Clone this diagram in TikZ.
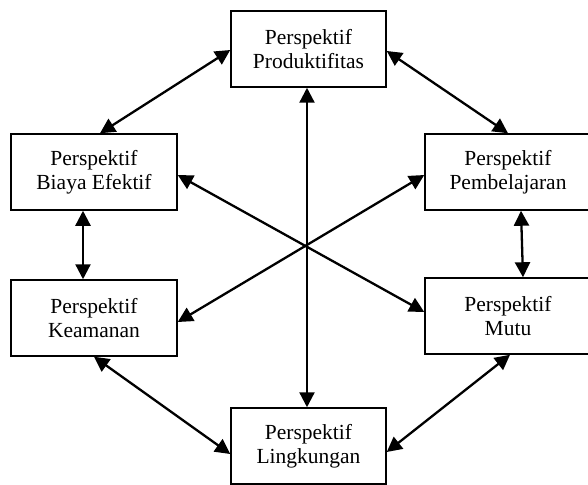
\documentclass[tikz,border=0pt]{standalone}
\usepackage{fontspec}
\setmainfont{Liberation Serif}
\usepackage{tikz}
\usetikzlibrary{arrows.meta,positioning}

\begin{document}
\begin{tikzpicture}[x=1pt, y=-1pt, >={Triangle[length=15pt, width=15pt]},
  font=\fontsize{21.5}{24.5}\selectfont,
  persp/.style={draw=black, line width=1.5pt, rectangle, align=center, inner sep=0pt,
                minimum height=76pt, minimum width=166pt},
  link/.style={<->, line width=2.3pt}]
  \useasboundingbox (0,0) rectangle (588,484);
  \node[persp, minimum width=155pt] (prod) at (308.5,49)  {Perspektif\\Produktifitas};
  \node[persp] (biaya) at (94,172)  {Perspektif\\Biaya Efektif};
  \node[persp] (pemb)  at (508,172) {Perspektif\\Pembelajaran};
  \node[persp] (keam)  at (94,318)  {Perspektif\\Keamanan};
  \node[persp] (mutu)  at (508,316) {Perspektif\\Mutu};
  \node[persp, minimum width=155pt] (ling) at (308.5,446) {Perspektif\\Lingkungan};
  % outer ring
  \draw[link] ([xshift=6pt]biaya.north) -- ([yshift=-1pt]prod.west);
  \draw[link] ([yshift=-2pt]prod.east) -- (pemb.north);
  \draw[link] ([xshift=-11pt]biaya.south) -- ([xshift=-11pt]keam.north);
  \draw[link] ([xshift=13pt]pemb.south) -- ([xshift=15pt]mutu.north);
  \draw[link] (keam.south) -- ([yshift=-8pt]ling.west);
  \draw[link] ([xshift=2pt]mutu.south) -- ([yshift=-6pt]ling.east);
  % through the middle
  \draw[link] ([xshift=-1.5pt]prod.south) -- ([xshift=-1.5pt]ling.north);
  \draw[link] ([yshift=-3pt]biaya.east) -- ([yshift=4pt]mutu.west);
  \draw[link] ([yshift=-3pt]pemb.west) -- ([yshift=-4pt]keam.east);
\end{tikzpicture}
\end{document}
